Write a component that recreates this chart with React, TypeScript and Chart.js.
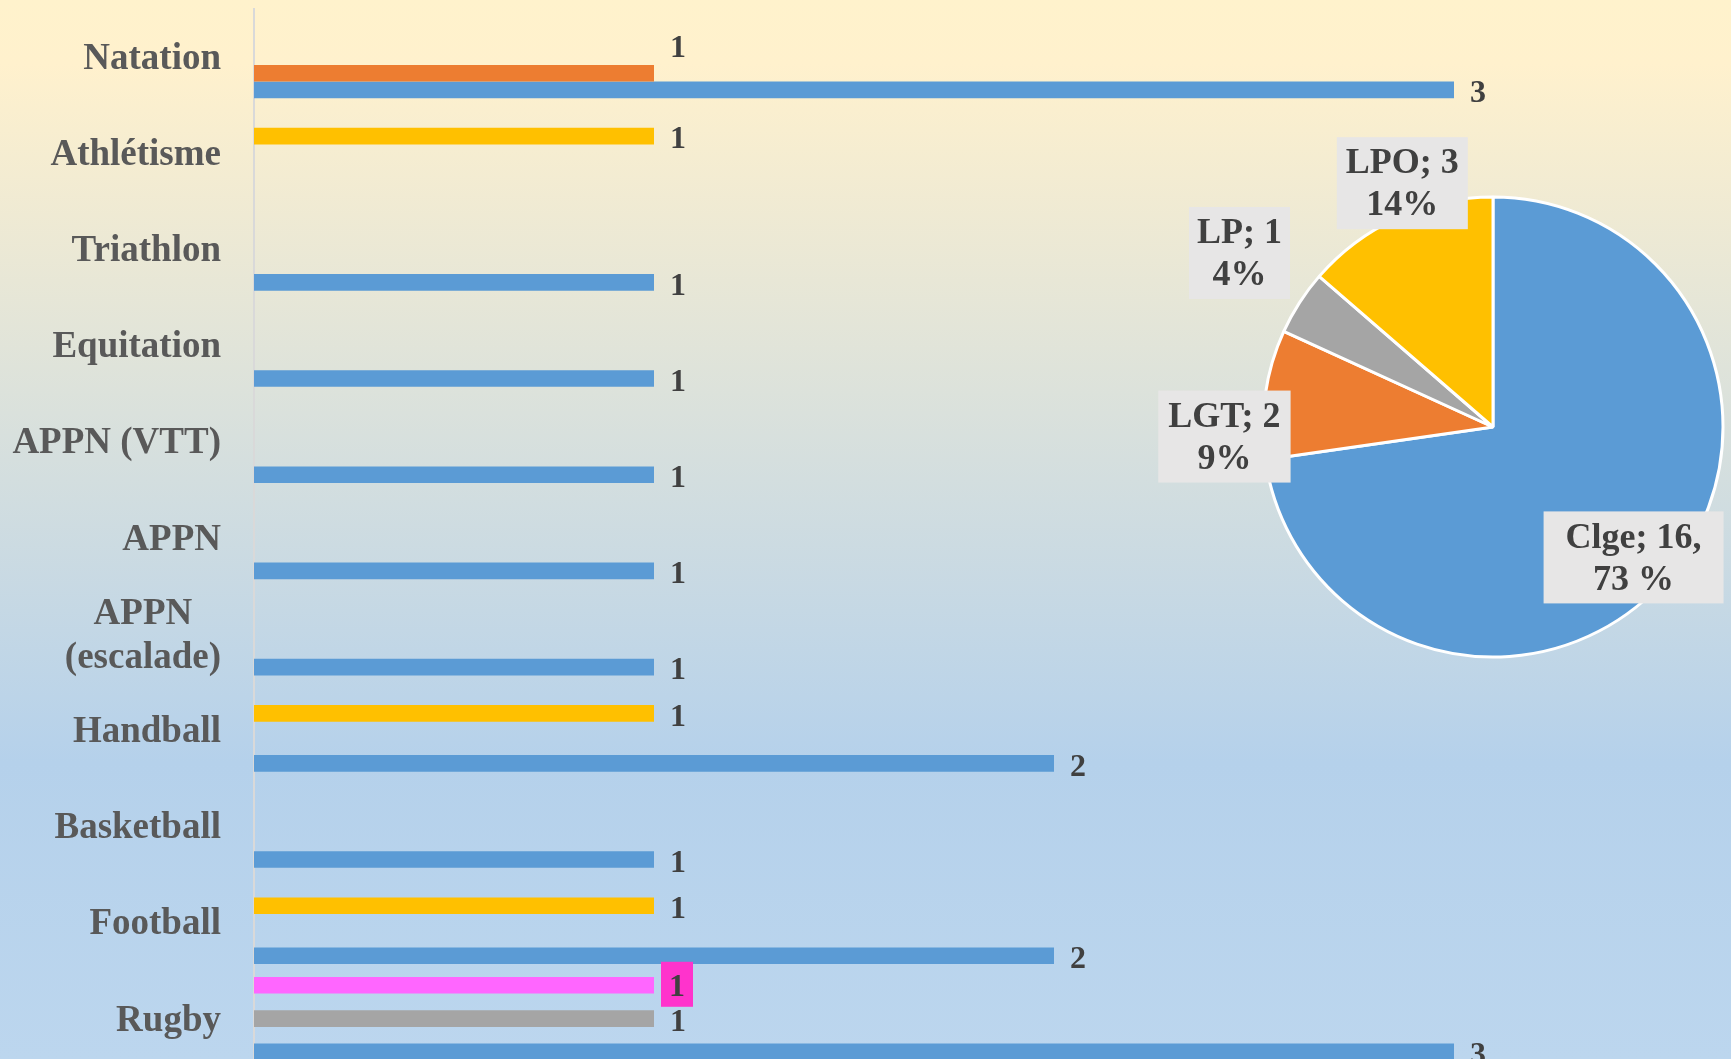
import { useEffect, useRef } from 'react';
import { Chart, registerables } from 'chart.js';

Chart.register(...registerables);

// ---------- DATA ----------
const CATEGORIES: (string | string[])[] = [
  'Natation',
  'Athlétisme',
  'Triathlon',
  'Equitation',
  'APPN (VTT)',
  'APPN',
  ['APPN', '(escalade)'],
  'Handball',
  'Basketball',
  'Football',
  'Rugby',
];

const CLGE = [3, null, 1, 1, 1, 1, 1, 2, 1, 2, 3];
const LGT = [1, null, null, null, null, null, null, null, null, null, null];
const LP = [null, null, null, null, null, null, null, null, null, null, 1];
const LPO = [null, 1, null, null, null, null, null, 1, null, 1, null];
const LGT_BIS = [null, null, null, null, null, null, null, null, null, null, 1];

const PIE_LABELS = ['Clge', 'LGT', 'LP', 'LPO'];
const PIE_VALUES = [16, 2, 1, 3];
const PIE_PERCENTS = ['73 %', '9%', '4%', '14%'];
const PIE_LINE1_TRAIL = [',', '', '', ''];

// ---------- STYLE ----------
const BLUE = '#5B9BD5';
const ORANGE = '#ED7D31';
const GRAY = '#A5A5A5';
const YELLOW = '#FFC000';
const PINK = '#FF66FF';
const PINK_BOX = '#FF33CC';
const FONT = '"Liberation Serif", "Times New Roman", serif';
const LABEL_COLOR = '#595959';
const VALUE_COLOR = '#404040';

const PIE_LABEL_RADIAL = [0.826, 1.174, 1.335, 1.13];
const PIE_LABEL_NUDGE = [
  [-3, 6],
  [-1.3, 48],
  [4.8, -8],
  [17.3, -7.4],
];
const PIE_LABEL_PADX = [22, 10, 8, 9];

const categoryLabelPlugin = {
  id: 'categoryLabels',
  afterDraw(chart: any) {
    const ctx = chart.ctx;
    const y = chart.scales.y;
    const rightEdge = chart.chartArea.left - 33;
    ctx.save();
    ctx.font = `bold 37px ${FONT}`;
    ctx.fillStyle = LABEL_COLOR;
    ctx.textBaseline = 'middle';
    ctx.textAlign = 'center';
    chart.data.labels.forEach((lab: any, i: number) => {
      const lines: string[] = Array.isArray(lab) ? lab : [lab];
      const widths = lines.map((l) => ctx.measureText(l).width);
      const blockW = Math.max(...widths);
      const cx = rightEdge - blockW / 2;
      const yc = y.getPixelForValue(i) + 2.5;
      lines.forEach((l, j) => {
        ctx.fillText(l, cx, yc + (j - (lines.length - 1) / 2) * 44);
      });
    });
    ctx.restore();
  },
};

const valueLabelPlugin = {
  id: 'valueLabels',
  afterDatasetsDraw(chart: any) {
    const ctx = chart.ctx;
    ctx.save();
    ctx.font = `bold 32px ${FONT}`;
    ctx.textBaseline = 'middle';
    chart.data.datasets.forEach((ds: any, di: number) => {
      const meta = chart.getDatasetMeta(di);
      meta.data.forEach((bar: any, i: number) => {
        const v = ds.data[i];
        if (v == null) return;
        const lift = ds.labelLift ? ds.labelLift[i] || 0 : 0;
        const text = String(v);
        if (ds.labelBox) {
          const bx = bar.x + 7;
          const bw = 32;
          const bh = 45;
          ctx.fillStyle = ds.labelBox;
          ctx.fillRect(bx, bar.y - 1 - bh / 2, bw, bh);
          ctx.fillStyle = VALUE_COLOR;
          ctx.textAlign = 'center';
          ctx.fillText(text, bx + bw / 2, bar.y + 2 + lift);
        } else {
          ctx.fillStyle = VALUE_COLOR;
          ctx.textAlign = 'left';
          ctx.fillText(text, bar.x + 16, bar.y + 4 + lift);
        }
      });
    });
    ctx.restore();
  },
};

const pieLabelPlugin = {
  id: 'pieLabels',
  afterDatasetsDraw(chart: any) {
    const ctx = chart.ctx;
    const meta = chart.getDatasetMeta(0);
    ctx.save();
    ctx.font = `bold 36px ${FONT}`;
    ctx.textBaseline = 'middle';
    ctx.textAlign = 'center';
    meta.data.forEach((arc: any, i: number) => {
      const p = arc.getProps(['x', 'y', 'startAngle', 'endAngle', 'outerRadius'], true);
      const mid = (p.startAngle + p.endAngle) / 2;
      const r = p.outerRadius * PIE_LABEL_RADIAL[i];
      const cx = p.x + Math.cos(mid) * r + PIE_LABEL_NUDGE[i][0];
      const cy = p.y + Math.sin(mid) * r + PIE_LABEL_NUDGE[i][1];
      const lines = [
        `${PIE_LABELS[i]}; ${PIE_VALUES[i]}${PIE_LINE1_TRAIL[i]}`,
        PIE_PERCENTS[i],
      ];
      const w = Math.max(...lines.map((l) => ctx.measureText(l).width));
      const boxW = w + 2 * PIE_LABEL_PADX[i];
      const boxH = 92;
      ctx.fillStyle = '#E7E6E6';
      ctx.fillRect(cx - boxW / 2, cy - boxH / 2, boxW, boxH);
      ctx.fillStyle = VALUE_COLOR;
      ctx.fillText(lines[0], cx, cy - 19);
      ctx.fillText(lines[1], cx, cy + 23);
    });
    ctx.restore();
  },
};

export default function App() {
  const barRef = useRef<HTMLCanvasElement>(null);
  const pieRef = useRef<HTMLCanvasElement>(null);

  useEffect(() => {
    const barChart = new Chart(barRef.current as HTMLCanvasElement, {
      type: 'bar',
      data: {
        labels: CATEGORIES as any,
        datasets: [
          { label: 'LGT bis', data: LGT_BIS, backgroundColor: PINK, labelBox: PINK_BOX } as any,
          { label: 'LPO', data: LPO, backgroundColor: YELLOW },
          { label: 'LP', data: LP, backgroundColor: GRAY },
          { label: 'LGT', data: LGT, backgroundColor: ORANGE, labelLift: [-29] } as any,
          { label: 'Clge', data: CLGE, backgroundColor: BLUE },
        ],
      },
      options: {
        indexAxis: 'y',
        responsive: false,
        animation: false,
        layout: { padding: { top: 8.5, bottom: 13.3, left: 0, right: 77 } },
        datasets: { bar: { categoryPercentage: 0.866, barPercentage: 1, borderWidth: 0 } },
        plugins: { legend: { display: false }, tooltip: { enabled: false } },
        scales: {
          x: { display: false, min: 0, max: 3.5 },
          y: {
            grid: { display: false, drawTicks: false },
            border: { display: true, color: '#D9D9D9', width: 2 },
            ticks: { display: false },
            afterFit: (s: any) => {
              s.width = 254;
            },
          },
        },
      } as any,
      plugins: [categoryLabelPlugin, valueLabelPlugin],
    });

    const pieChart = new Chart(pieRef.current as HTMLCanvasElement, {
      type: 'pie',
      data: {
        labels: PIE_LABELS,
        datasets: [
          {
            data: PIE_VALUES,
            backgroundColor: [BLUE, ORANGE, GRAY, YELLOW],
            borderColor: '#FFFFFF',
            borderWidth: 3,
            radius: 230,
          } as any,
        ],
      },
      options: {
        responsive: false,
        animation: false,
        layout: { padding: 0 },
        plugins: { legend: { display: false }, tooltip: { enabled: false } },
      } as any,
      plugins: [pieLabelPlugin],
    });

    return () => {
      barChart.destroy();
      pieChart.destroy();
    };
  }, []);

  return (
    <div
      style={{
        position: 'fixed',
        left: 0,
        top: 0,
        width: 1731,
        height: 1059,
        overflow: 'hidden',
        background:
          'linear-gradient(180deg, #FFF2CC 0%, #FFF1CD 6%, #B5D1EB 72%, #BCD6EE 100%)',
      }}
    >
      <canvas
        ref={barRef}
        width={1731}
        height={1080}
        style={{ position: 'absolute', left: 0, top: 0, width: 1731, height: 1080 }}
      />
      <canvas
        ref={pieRef}
        width={680}
        height={680}
        style={{ position: 'absolute', left: 1153, top: 87, width: 680, height: 680 }}
      />
    </div>
  );
}
